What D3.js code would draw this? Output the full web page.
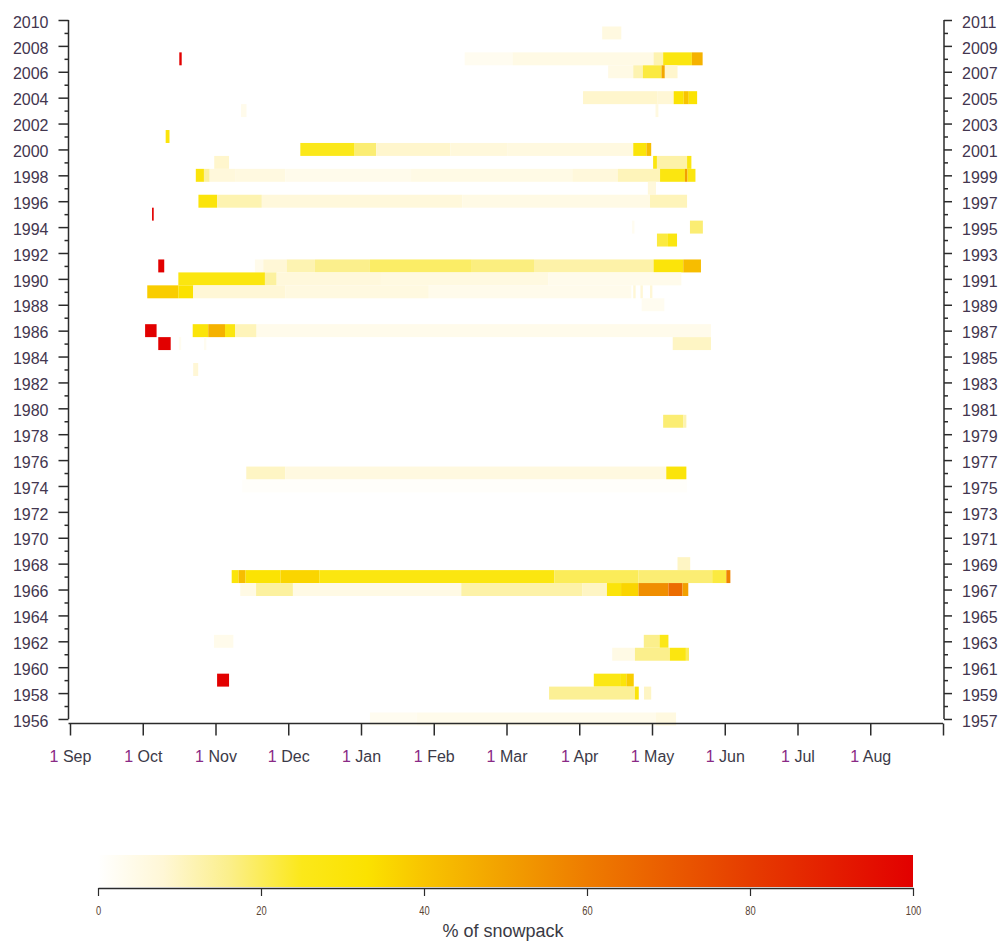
<!DOCTYPE html>
<html>
<head>
<meta charset="utf-8">
<script src="https://cdnjs.cloudflare.com/ajax/libs/d3/7.8.5/d3.min.js"></script>
<style>
body { margin: 0; background: #fff; }
svg { display: block; }
text { font-family: "Liberation Sans", Arial, sans-serif; }
</style>
</head>
<body>
<div id="chart"></div>
<script>
// month ticks, equally spaced over the snow year (1 Sep .. 1 Sep)
const monthLabels = ['Sep','Oct','Nov','Dec','Jan','Feb','Mar','Apr','May','Jun','Jul','Aug']
const yearTicks = d3.range(1956, 2011, 2)
const minorYears = d3.range(1957, 2010, 2)
const legendTicks = [0, 20, 40, 60, 80, 100]

// colour ramp
const colorStops = [0, 8, 16, 25, 33, 40, 50, 60, 70, 80, 90, 100]
const colorHex = ['#ffffff','#fff7d6','#fbef8c','#fbe81a','#fbe200','#f8c400','#f2a000','#ee7c00','#ea5c00','#e63c00','#e41e00','#e20000']

// [year, start day (from 1 Sep), end day, % of snowpack]
const snowRuns = [
	[2009, 222.5, 230.5, 6],
	[2007, 45.7, 46.7, 100],
	[2007, 165, 185, 3], [2007, 185, 244, 5], [2007, 244, 248, 12], [2007, 248, 260, 28], [2007, 260, 264.5, 45],
	[2006, 225, 235.5, 5], [2006, 235.5, 239.5, 12], [2006, 239.5, 247.3, 22], [2006, 247.3, 248.7, 48], [2006, 248.7, 254, 9],
	[2004, 214.5, 245.5, 9], [2004, 245.5, 252.4, 8], [2004, 252.4, 256.6, 32], [2004, 256.6, 258.7, 40], [2004, 258.7, 262.2, 32],
	[2003, 71.5, 73.8, 4], [2003, 244.8, 246, 6],
	[2001, 40, 41.6, 30],
	[2000, 96.3, 119, 25], [2000, 119, 128, 18], [2000, 128, 159, 9], [2000, 159, 183, 7], [2000, 183, 235.5, 6], [2000, 235.5, 241, 30], [2000, 241, 243, 42],
	[1999, 60.3, 66.5, 9], [1999, 243.8, 245.4, 28], [1999, 245.4, 258, 13], [1999, 258, 259.8, 28],
	[1998, 52.6, 56, 30], [1998, 56, 58.4, 14], [1998, 58.4, 69.3, 7], [1998, 69.3, 90, 6], [1998, 90, 142.6, 4], [1998, 142.6, 210, 5], [1998, 210, 229, 7],
	[1998, 229, 246.7, 11], [1998, 246.7, 257.1, 28], [1998, 257.1, 258.2, 50], [1998, 258.2, 261.5, 28],
	[1997, 241.6, 245, 7],
	[1996, 53.7, 61.5, 30], [1996, 61.5, 80.2, 12], [1996, 80.2, 164, 7], [1996, 164, 242.5, 5], [1996, 242.5, 258, 11],
	[1995, 34.3, 35, 100],
	[1994, 235, 236, 3], [1994, 259.2, 264.6, 18],
	[1993, 245.4, 250, 22], [1993, 250, 253.8, 28],
	[1991, 36.9, 39.4, 100],
	[1991, 77.3, 80.8, 4], [1991, 80.8, 90.6, 8], [1991, 90.6, 102.4, 12], [1991, 102.4, 125.4, 16], [1991, 125.4, 168, 19], [1991, 168, 194, 17],
	[1991, 194, 244, 13], [1991, 244, 256.4, 30], [1991, 256.4, 263.8, 42],
	[1990, 45.3, 81.5, 28], [1990, 81.5, 86.4, 14], [1990, 86.4, 130, 7], [1990, 130, 200, 6], [1990, 200, 255.6, 4],
	[1989, 32.3, 45.3, 38], [1989, 45.3, 51.5, 33], [1989, 51.5, 90, 8], [1989, 90, 150, 6], [1989, 150, 234.7, 4],
	[1989, 235.5, 236.5, 8], [1989, 238.5, 239.5, 8], [1989, 242.5, 243.5, 8],
	[1988, 239, 248.5, 3],
	[1986, 31.4, 36.2, 100],
	[1986, 51.3, 57.8, 30], [1986, 57.8, 64.8, 45], [1986, 64.8, 69, 28], [1986, 69, 78, 11], [1986, 78, 268, 4],
	[1985, 36.9, 42.1, 100], [1985, 45.5, 46.5, 3], [1985, 56, 57, 3], [1985, 252, 268, 10],
	[1983, 51.5, 53.6, 8],
	[1979, 248, 256.5, 18], [1979, 256.5, 257.7, 12],
	[1975, 73.7, 90, 10], [1975, 90, 249.3, 6], [1975, 249.3, 257.7, 30],
	[1974, 72, 258, 1],
	[1968, 254, 259.3, 10],
	[1967, 67.6, 70.5, 30], [1967, 70.5, 73.4, 42], [1967, 73.4, 88, 32], [1967, 88, 104.2, 36], [1967, 104.2, 202.5, 28],
	[1967, 202.5, 237.7, 20], [1967, 237.7, 268.5, 18], [1967, 268.5, 274.4, 22], [1967, 274.4, 276.1, 58],
	[1966, 71.2, 77.8, 5], [1966, 77.8, 93.2, 14], [1966, 93.2, 163.6, 5], [1966, 163.6, 214.3, 13], [1966, 214.3, 224.5, 10],
	[1966, 224.5, 230.4, 30], [1966, 230.4, 237.7, 36], [1966, 237.7, 250.2, 55], [1966, 250.2, 256.1, 65], [1966, 256.1, 258.5, 50],
	[1962, 60.2, 68.3, 4], [1962, 239.9, 246.5, 16], [1962, 246.5, 250.2, 26],
	[1961, 226.7, 236.2, 5], [1961, 236.2, 250.8, 16], [1961, 250.8, 257.5, 28], [1961, 257.5, 258.8, 20],
	[1959, 61.5, 66.5, 100], [1959, 219, 230, 27], [1959, 230, 232.6, 30], [1959, 232.6, 235.7, 38],
	[1958, 200.3, 236.2, 15], [1958, 236.2, 237.8, 30], [1958, 240, 243, 10],
	[1956, 125.4, 145, 3], [1956, 145, 245, 4], [1956, 245, 253.4, 6]
]

let width = 999
let height = 942
let margin = ({top: 20, right: 56, bottom: 218.5, left: 70})

const x = d3.scaleLinear()
	.domain([0, 365])
	.range([margin.left, width - margin.right])

const y = d3.scaleLinear()
	.domain([1955.65, 2010])
	.range([height - margin.bottom, margin.top])

const color = d3.scaleLinear()
	.domain(colorStops)
	.range(colorHex)
	.clamp(true)

const svg = d3.select('#chart')
	.append('svg')
	.attr('width', width)
	.attr('height', height)

// heat map cells
svg.append('g')
	.selectAll('rect')
	.data(snowRuns)
	.enter()
	.append('rect')
	.attr('x', d => x(d[1]))
	.attr('width', d => x(d[2]) - x(d[1]))
	.attr('y', d => y(d[0] + 0.5))
	.attr('height', d => y(d[0] - 0.5) - y(d[0] + 0.5))
	.attr('fill', d => color(d[3]))

const axisInk = '#2b2b2b'
const labelInk = '#43364f'

function styleAxis(g){
	g.attr('font-size', 16)
		.attr('font-family', '"Liberation Sans", Arial, sans-serif')
	g.selectAll('line').attr('stroke', axisInk).attr('stroke-width', 1.5)
	g.selectAll('.domain').attr('stroke', axisInk).attr('stroke-width', 1.5)
	g.selectAll('text').attr('fill', labelInk)
}

// left axis
svg.append('g')
	.attr('transform', 'translate(68.5,0)')
	.call(d3.axisLeft(y).tickValues(yearTicks).tickFormat(d3.format('d')).tickSize(10).tickSizeOuter(0).tickPadding(10))
	.call(styleAxis)
	.call(g => g.select('.domain').attr('d', `M0,${y(2010)}V${y(1956)}`))
	.call(g => g.selectAll('text').attr('dy', '0.45em'))

svg.append('g')
	.attr('transform', 'translate(68.5,0)')
	.call(d3.axisLeft(y).tickValues(minorYears).tickFormat('').tickSize(4))
	.call(styleAxis)
	.call(g => g.select('.domain').remove())

// right axis, labelled with the following year
svg.append('g')
	.attr('transform', 'translate(944,0)')
	.call(d3.axisRight(y).tickValues(yearTicks).tickFormat(d => d + 1).tickSize(8).tickSizeOuter(0).tickPadding(10))
	.call(styleAxis)
	.call(g => g.select('.domain').attr('d', `M0,${y(2010)}V${y(1956)}`))
	.call(g => g.selectAll('text').attr('dy', '0.45em'))

svg.append('g')
	.attr('transform', 'translate(944,0)')
	.call(d3.axisRight(y).tickValues(minorYears).tickFormat('').tickSize(4))
	.call(styleAxis)
	.call(g => g.select('.domain').remove())

// bottom axis
const monthTicks = d3.range(13).map(i => i * 365 / 12)

svg.append('g')
	.attr('transform', `translate(0,${height - margin.bottom})`)
	.call(d3.axisBottom(x).tickValues(monthTicks).tickSize(12).tickSizeOuter(0).tickFormat(''))
	.call(styleAxis)
	.call(g => g.select('.domain').attr('d', `M68.5,0H${x(365)}`))
	.call(g => g.selectAll('.tick text').each(function(d, i){
		let t = d3.select(this).attr('y', 38.5).attr('dy', 0)
		if (i < 12){
			t.append('tspan').attr('fill', '#8a2a86').text('1')
			t.append('tspan').attr('fill', '#3c3a48').text(' ' + monthLabels[i])
		}
	}))

// legend
const cx = d3.scaleLinear()
	.domain([0, 100])
	.range([98, 913])

const grad = svg.append('defs')
	.append('linearGradient')
	.attr('id', 'snowRamp')
	.attr('x1', '0%').attr('x2', '100%')
	.attr('y1', '0%').attr('y2', '0%')

grad.selectAll('stop')
	.data(colorStops)
	.enter()
	.append('stop')
	.attr('offset', d => d + '%')
	.attr('stop-color', d => color(d))

svg.append('rect')
	.attr('x', cx(0))
	.attr('y', 855)
	.attr('width', cx(100) - cx(0))
	.attr('height', 32)
	.attr('fill', 'url(#snowRamp)')

svg.append('g')
	.attr('transform', 'translate(0,888)')
	.call(d3.axisBottom(cx).tickValues(legendTicks).tickSize(8).tickSizeOuter(0))
	.call(styleAxis)
	.call(g => g.selectAll('line').attr('stroke-width', 1.2))
	.call(g => g.selectAll('text')
		.attr('font-size', 13)
		.attr('y', 27.5)
		.attr('dy', 0)
		.attr('fill', '#5a4535')
		.attr('transform', 'scale(0.72,1)'))

svg.append('text')
	.attr('x', 503)
	.attr('y', 937)
	.attr('text-anchor', 'middle')
	.attr('font-size', 18)
	.attr('fill', '#3a3a44')
	.text('% of snowpack')
</script>
</body>
</html>
